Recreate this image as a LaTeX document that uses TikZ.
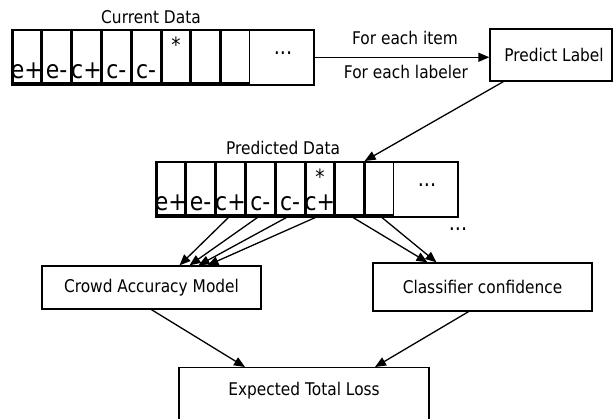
\documentclass[tikz,border=0pt]{standalone}
\usepackage{fontspec}
\setmainfont{DejaVu Sans}[FakeStretch=0.88]
\usetikzlibrary{arrows.meta}
\tikzstyle{strip}=[draw=black, line width=1.5pt, minimum width=302pt, minimum height=55pt, inner sep=0pt, anchor=north west]
\tikzstyle{cell}=[draw=black, line width=1.5pt, minimum width=28.3pt, minimum height=53pt, inner sep=0pt, anchor=north west]
\tikzstyle{celltxt}=[anchor=south, inner sep=0pt, text depth=0pt, outer sep=0pt, outer ysep=5.5pt, font=\fontsize{25}{25}\selectfont]
\tikzstyle{startxt}=[anchor=north, inner sep=0pt, outer sep=0pt, outer ysep=8pt, font=\fontsize{21}{21}\selectfont]
\tikzstyle{dots}=[inner sep=0pt, font=\fontsize{22}{22}\selectfont]
\tikzstyle{caption}=[inner sep=0pt, font=\fontsize{17.5}{20}\selectfont]
\tikzstyle{block}=[draw=black, line width=1.3pt, inner sep=0pt, font=\fontsize{17.5}{20}\selectfont]
\tikzstyle{flow}=[line width=1.3pt, -{Triangle[length=11pt,width=9pt]}]

\begin{document}
\begin{tikzpicture}[x=1pt,y=-1pt]
			\useasboundingbox (0,0) rectangle (613,418);
			% current data
			\node[caption] (curtitle) at (151,17) {Current Data};
			\node[strip] (curdata) at (11,29) {};
			\node[cell, label={[celltxt]south:e+}] (cd1) at (12.0,29) {};
			\node[cell, label={[celltxt]south:e-}] (cd2) at (41.8,29) {};
			\node[cell, label={[celltxt]south:c+}] (cd3) at (71.6,29) {};
			\node[cell, label={[celltxt]south:c-}] (cd4) at (101.4,29) {};
			\node[cell, label={[celltxt]south:c-}] (cd5) at (131.2,29) {};
			\node[cell, label={[startxt]north:*}] (cd6) at (161.0,29) {};
			\node[cell] (cd7) at (190.8,29) {};
			\node[cell] (cd8) at (220.6,29) {};
			\node[dots] (curdots) at (283,53) {...};
			% labeling step
			\node[caption] (eachitem) at (405,38) {For each item};
			\node[caption] (eachlabeler) at (406,72) {For each labeler};
			\node[block, minimum width=122pt, minimum height=52pt] (predict) at (551,55) {\hspace*{6pt}Predict Label};
			% predicted data
			\node[caption] (predtitle) at (283,148) {Predicted Data};
			\node[strip] (preddata) at (155,161) {};
			\node[cell, label={[celltxt]south:e+}] (pd1) at (156.0,161) {};
			\node[cell, label={[celltxt]south:e-}] (pd2) at (185.8,161) {};
			\node[cell, label={[celltxt]south:c+}] (pd3) at (215.6,161) {};
			\node[cell, label={[celltxt]south:c-}] (pd4) at (245.4,161) {};
			\node[cell, label={[celltxt]south:c-}] (pd5) at (275.2,161) {};
			\node[cell, label={[startxt]north:*}, label={[celltxt]south:c+}] (pd6) at (305.0,161) {};
			\node[cell] (pd7) at (334.8,161) {};
			\node[cell] (pd8) at (364.6,161) {};
			\node[dots] (preddots) at (427,185) {...};
			\node[dots] (moredots) at (458,229) {...};
			% models
			\node[block, minimum width=219pt, minimum height=43pt] (crowd) at (151.5,287.5) {Crowd Accuracy Model};
			\node[block, minimum width=219pt, minimum height=48pt] (classifier) at (482.5,287) {Classifier confidence};
			\node[block, anchor=north, minimum width=250pt, text height=28pt, text depth=40pt] (loss) at (304,367) {Expected Total Loss};
			\path[flow]
				(curdata.east) edge (curdata.east -| predict.west)
				([xshift=14pt]predict.south west) edge (pd7.north east)
				(pd3.south) edge ([xshift=28pt]crowd.north)
				(pd4.south) edge ([xshift=38pt]crowd.north)
				(pd5.south) edge ([xshift=47pt]crowd.north)
				(pd6.south) edge ([xshift=56pt]crowd.north)
				(pd7.south) edge ([xshift=-55pt]classifier.north)
				(pd8.south) edge ([xshift=-46pt]classifier.north)
				(crowd.south) edge ([xshift=-59pt]loss.north)
				([xshift=-14pt]classifier.south) edge ([xshift=71pt]loss.north);
		\end{tikzpicture}
\end{document}
